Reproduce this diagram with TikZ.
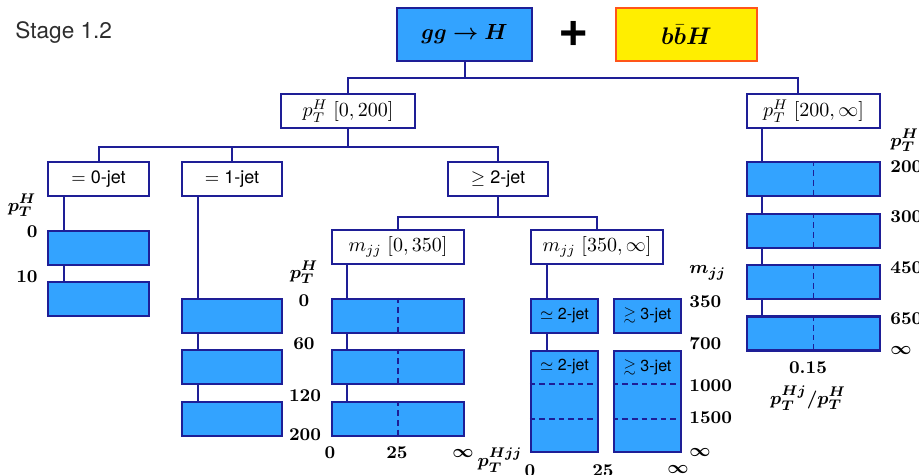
\documentclass[tikz,border=0pt]{standalone}
\usepackage{amsmath, amssymb, bm}
\usepackage{fontspec}
\setsansfont{TeX Gyre Heros}
\usetikzlibrary{calc}
\definecolor{BinBlue}{RGB}{51,163,255}
\definecolor{EdgeNavy}{RGB}{30,30,150}
\definecolor{BbYellow}{RGB}{255,238,0}
\definecolor{BbOrange}{RGB}{255,85,25}
\definecolor{TitleGrey}{RGB}{45,45,45}

\begin{document}
\begin{tikzpicture}[x=0.5pt, y=-0.5pt,
    link/.style={draw=EdgeNavy, line width=1pt},
    catbox/.style={draw=EdgeNavy, line width=1.2pt, fill=white, inner sep=0pt, minimum height=17pt, font=\fontsize{10}{12}\selectfont},
    binbox/.style={draw=EdgeNavy, line width=1.2pt, fill=BinBlue, inner sep=0pt, minimum height=17pt},
    cut/.style={draw=EdgeNavy, line width=0.9pt, dash pattern=on 2.8pt off 2pt},
    axlab/.style={font=\fontsize{9.3}{11}\selectfont\boldmath, inner sep=0pt},
    jetlab/.style={font=\sffamily\fontsize{9}{11}\selectfont, inner sep=0pt},
    binlab/.style={font=\sffamily\fontsize{8}{10}\selectfont, inner sep=0pt}]
    \useasboundingbox (0,0) rectangle (919,475);

    % header
    \node[font=\sffamily\fontsize{11.3}{13}\selectfont, text=TitleGrey, anchor=west, inner sep=0pt] (title) at (15,33) {Stage 1.2};
    \node[draw=EdgeNavy, line width=1.3pt, fill=BinBlue, inner sep=0pt, minimum width=67.5pt, minimum height=26.5pt, font=\fontsize{11}{13}\selectfont] (ggH) at (464.5,34.5) {$\bm{gg\to H}$};
    \node[font=\sffamily\bfseries\fontsize{26}{28}\selectfont, inner sep=0pt] (plus) at (574,34) {+};
    \node[draw=BbOrange, line width=1.3pt, fill=BbYellow, inner sep=0pt, minimum width=70.5pt, minimum height=26.5pt, font=\fontsize{13}{15}\selectfont] (bbH) at (686.5,34.5) {$\bm{b\bar{b}H}$};

    % categories
    \node[catbox, minimum width=67pt] (ptlow) at (348,111) {$p_T^H\;[0,200]$};
    \node[catbox, minimum width=66.5pt] (pthigh) at (813.5,111) {$p_T^H\;[200,\infty]$};
    \node[catbox, minimum width=50.5pt, font=\sffamily\fontsize{9}{11}\selectfont] (jet0) at (98.5,179) {$=$ 0-jet};
    \node[catbox, minimum width=50pt, font=\sffamily\fontsize{9}{11}\selectfont] (jet1) at (232,179) {$=$ 1-jet};
    \node[catbox, minimum width=50pt, font=\sffamily\fontsize{9}{11}\selectfont] (jet2) at (498,179) {$\geq$ 2-jet};
    \node[catbox, minimum width=66pt] (mjjlow) at (398,247) {$m_{jj}\;[0,350]$};
    \node[catbox, minimum width=66pt] (mjjhigh) at (597,247) {$m_{jj}\;[350,\infty]$};

    \draw[link] (ggH.south) -- ++(0,16) coordinate (busA);
    \draw[link] (ptlow.north) |- (busA) -| ([xshift=-8pt]pthigh.north);
    \draw[link] (ptlow.south) -- ++(0,18) coordinate (busB);
    \draw[link] (jet0.north) |- (busB) -| (jet2.north);
    \draw[link] (jet1.north) -- (jet1.north |- busB);
    \draw[link] (jet2.south) -- ++(0,20) coordinate (busC);
    \draw[link] (mjjlow.north) |- (busC) -| (mjjhigh.north);

    % 0-jet bins
    \node[binbox, minimum width=50.5pt] (z1) at (98.5,248) {};
    \node[binbox, minimum width=50.5pt] (z2) at (98.5,299) {};
    \draw[link] ([xshift=8.5pt]jet0.south west) -- ([xshift=8.5pt]z1.north west);
    \draw[link] ([xshift=8.5pt]z1.south west) -- ([xshift=8.5pt]z2.north west);
    \node[axlab] (zt) at (22,205) {$p_T^H$};
    \node[axlab, anchor=east] (za) at (38,232) {$0$};
    \node[axlab, anchor=east] (zb) at (38,277) {$10$};

    % 1-jet bins
    \node[binbox, minimum width=50pt] (o1) at (232,316) {};
    \node[binbox, minimum width=50pt] (o2) at (232,367) {};
    \node[binbox, minimum width=50pt] (o3) at (232,419) {};
    \draw[link] ([xshift=8.5pt]jet1.south west) -- ([xshift=8.5pt]o1.north west);
    \draw[link] ([xshift=8.5pt]o1.south west) -- ([xshift=8.5pt]o2.north west);
    \draw[link] ([xshift=8.5pt]o2.south west) -- ([xshift=8.5pt]o3.north west);
    \node[axlab] (ot) at (304,272) {$p_T^H$};
    \node[axlab] (oa) at (304,301) {$0$};
    \node[axlab] (ob) at (304,344) {$60$};
    \node[axlab] (oc) at (305,396) {$120$};
    \node[axlab] (od) at (305,435) {$200$};

    % 2-jet, low mjj
    \node[binbox, minimum width=66pt] (l1) at (398,316) {};
    \node[binbox, minimum width=66pt] (l2) at (398,367) {};
    \node[binbox, minimum width=66pt] (l3) at (398,419) {};
    \draw[link] ([xshift=8pt]mjjlow.south west) -- ([xshift=8pt]l1.north west);
    \draw[link] ([xshift=8pt]l1.south west) -- ([xshift=8pt]l2.north west);
    \draw[link] ([xshift=8pt]l2.south west) -- ([xshift=8pt]l3.north west);
    \foreach \b in {l1,l2,l3}
        \draw[cut] (\b.north) -- (\b.south);
    \node[axlab] (la) at (330,453) {$0$};
    \node[axlab] (lb) at (397,453) {$25$};
    \node[axlab] (lc) at (463,453) {$\infty$};
    \node[axlab] (lt) at (500,460) {$p_T^{Hjj}$};

    % 2-jet, high mjj
    \node[binbox, minimum width=33.5pt, binlab] (h21) at (564.5,316) {$\simeq$ 2-jet};
    \node[binbox, minimum width=33.5pt, minimum height=50.5pt] (h22) at (564.5,401.5) {};
    \node[binbox, minimum width=33.5pt, binlab] (h31) at (647.5,316) {$\gtrsim$ 3-jet};
    \node[binbox, minimum width=33.5pt, minimum height=50.5pt] (h32) at (647.5,401.5) {};
    \draw[link] ([xshift=8.5pt]mjjhigh.south west) -- ([xshift=8.5pt]h21.north west);
    \draw[link] ([xshift=8.5pt]h21.south west) -- ([xshift=8.5pt]h22.north west);
    \foreach \b in {h22,h32} {
        \draw[cut] ($(\b.north west)!1/3!(\b.south west)$) -- ($(\b.north east)!1/3!(\b.south east)$);
        \draw[cut] ($(\b.north west)!2/3!(\b.south west)$) -- ($(\b.north east)!2/3!(\b.south east)$);
    }
    \node[binlab] (h22t) at (564.5,367) {$\simeq$ 2-jet};
    \node[binlab] (h32t) at (647.5,367) {$\gtrsim$ 3-jet};
    \node[axlab, anchor=west] (ht) at (689,273) {$m_{jj}$};
    \node[axlab, anchor=west] (ha) at (689,302) {$350$};
    \node[axlab, anchor=west] (hb) at (689,344) {$700$};
    \node[axlab, anchor=west] (hc) at (689,386) {$1000$};
    \node[axlab, anchor=west] (hd) at (689,418) {$1500$};
    \node[axlab, anchor=west] (he) at (689,452) {$\infty$};
    \node[axlab] (hx) at (530,471) {$0$};
    \node[axlab] (hy) at (603,471) {$25$};
    \node[axlab] (hz) at (678,469) {$\infty$};

    % high pT bins
    \node[binbox, minimum width=66.5pt] (v1) at (813.5,179) {};
    \node[binbox, minimum width=66.5pt] (v2) at (813.5,231) {};
    \node[binbox, minimum width=66.5pt] (v3) at (813.5,282) {};
    \node[binbox, minimum width=66.5pt] (v4) at (813.5,333.5) {};
    \draw[link] ([xshift=8pt]pthigh.south west) -- ([xshift=8pt]v1.north west);
    \draw[link] ([xshift=8pt]v1.south west) -- ([xshift=8pt]v2.north west);
    \draw[link] ([xshift=8pt]v2.south west) -- ([xshift=8pt]v3.north west);
    \draw[link] ([xshift=8pt]v3.south west) -- ([xshift=8pt]v4.north west);
    \foreach \b in {v1,v2,v3,v4}
        \draw[cut] (\b.north) -- (\b.south);
    \node[axlab, anchor=west] (vt) at (890,140) {$p_T^H$};
    \node[axlab, anchor=west] (va) at (890,167) {$200$};
    \node[axlab, anchor=west] (vb) at (890,217) {$300$};
    \node[axlab, anchor=west] (vc) at (890,268) {$450$};
    \node[axlab, anchor=west] (vd) at (890,319) {$650$};
    \node[axlab, anchor=west] (ve) at (890,350) {$\infty$};
    \node[axlab] (vx) at (808,368) {$0.15$};
    \node[axlab] (vy) at (808,398) {$p_T^{Hj}/p_T^H$};
\end{tikzpicture}
\end{document}
